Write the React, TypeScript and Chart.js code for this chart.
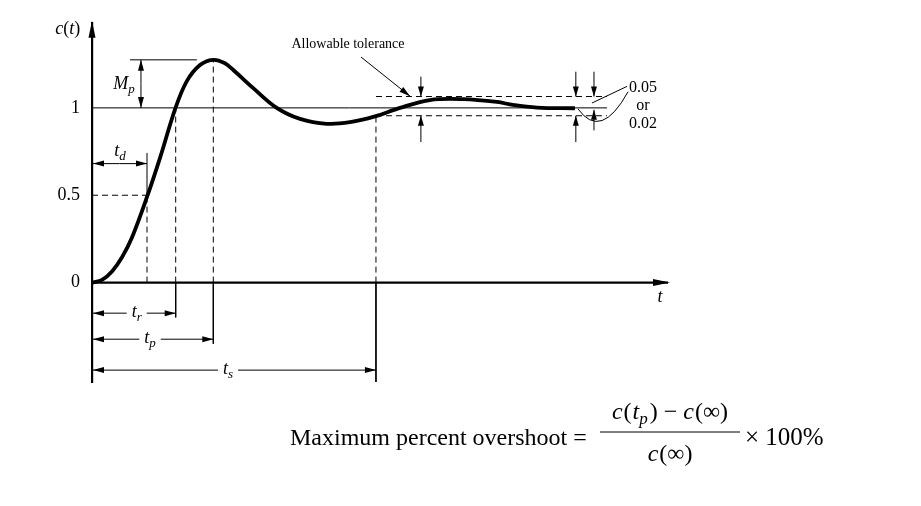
import React, { useEffect, useRef } from "react";
import { Chart, registerables } from "chart.js";

Chart.register(...registerables);

// ---- data (time in arbitrary units, c(t) normalised) ----
const stepTime = [0, 0.174, 0.347, 0.521, 0.694, 0.955, 1.181, 1.45, 1.644, 1.875, 2.101, 2.3, 2.453, 2.8, 3.207, 3.611, 4.075, 4.479, 4.913, 5.347, 5.868, 6.441, 7.031, 7.309, 7.726, 8.385];
const stepResponse = [0, 0.016, 0.064, 0.145, 0.258, 0.49, 0.714, 1.0, 1.152, 1.245, 1.275, 1.257, 1.217, 1.113, 1.0, 0.937, 0.909, 0.918, 0.951, 1.0, 1.045, 1.05, 1.034, 1.017, 1.002, 0.998];
const yTicks = [0, 0.5, 1];

// characteristic times: delay, rise, peak, settling
const markerSubs = ["d", "r", "p", "s"];
const markerTimes = [0.955, 1.453, 2.106, 4.93];
const markerLevels = [0.5, 1, 1.275, 0.955]; // where the dashed drop line meets the curve
const markerExtents = [0.742, -0.199, -0.35, -0.569]; // solid tick extension
const markerRows = [0.681, -0.175, -0.324, -0.501]; // level of the dimension arrow

const finalValue = 1;
const peakValue = 1.275;
const toleranceBand = [0.955, 1.065];
const lineEnd = 8.94;
const tRange = [0, 10];
const cRange = [-0.569, 1.487];

const SERIF = '"Liberation Serif", "Times New Roman", serif';

type Run = { t: string; it?: boolean; s: number; dy?: number; gap?: number };
const fontOf = (r: Run) => `${r.it ? "italic " : ""}${r.s}px ${SERIF}`;

function runsWidth(ctx: CanvasRenderingContext2D, runs: Run[]) {
  let w = 0;
  runs.forEach((r) => {
    ctx.font = fontOf(r);
    w += ctx.measureText(r.t).width + (r.gap || 0);
  });
  return w;
}

function drawRuns(ctx: CanvasRenderingContext2D, runs: Run[], x: number, y: number, align = "left") {
  const w = runsWidth(ctx, runs);
  let cx = align === "center" ? x - w / 2 : align === "right" ? x - w : x;
  ctx.textAlign = "left";
  ctx.textBaseline = "alphabetic";
  runs.forEach((r) => {
    ctx.font = fontOf(r);
    ctx.fillText(r.t, cx, y + (r.dy || 0));
    cx += ctx.measureText(r.t).width + (r.gap || 0);
  });
  return w;
}

function seg(ctx: CanvasRenderingContext2D, x1: number, y1: number, x2: number, y2: number, lw = 1) {
  ctx.lineWidth = lw;
  ctx.beginPath();
  ctx.moveTo(x1, y1);
  ctx.lineTo(x2, y2);
  ctx.stroke();
}

function head(ctx: CanvasRenderingContext2D, x: number, y: number, a: number, len = 11, hw = 3) {
  const c = Math.cos(a), s = Math.sin(a);
  ctx.beginPath();
  ctx.moveTo(x, y);
  ctx.lineTo(x - len * c + hw * s, y - len * s - hw * c);
  ctx.lineTo(x - len * c - hw * s, y - len * s + hw * c);
  ctx.closePath();
  ctx.fill();
}

function arrow(ctx: CanvasRenderingContext2D, x1: number, y1: number, x2: number, y2: number, len = 11, hw = 3) {
  seg(ctx, x1, y1, x2, y2, 1);
  head(ctx, x2, y2, Math.atan2(y2 - y1, x2 - x1), len, hw);
}

const tSub = (sub: string): Run[] => [
  { t: "t", it: true, s: 18 },
  { t: sub, it: true, s: 13, dy: 4 },
];

const annotations = {
  id: "annotations",
  afterDatasetsDraw(chart: any) {
    const ctx: CanvasRenderingContext2D = chart.ctx;
    const X = (v: number) => chart.scales.x.getPixelForValue(v);
    const Y = (v: number) => chart.scales.y.getPixelForValue(v);
    const area = chart.chartArea;
    ctx.save();
    ctx.strokeStyle = "#000";
    ctx.fillStyle = "#000";
    ctx.setLineDash([]);

    // axes arrows
    seg(ctx, X(0), Y(0), X(tRange[1]), Y(0), 2.2);
    head(ctx, X(tRange[1]) + 2, Y(0), 0, 17, 3.5);
    head(ctx, X(0), area.top - 2, -Math.PI / 2, 17, 3.5);

    // axis titles
    drawRuns(ctx, [{ t: "c", it: true, s: 18 }, { t: "(", s: 18 }, { t: "t", it: true, s: 18 }, { t: ")", s: 18 }], X(-0.42), Y(1.425), "center");
    drawRuns(ctx, [{ t: "t", it: true, s: 18 }], X(9.86), Y(-0.109), "center");

    // M_p
    seg(ctx, X(0.66), Y(peakValue), X(1.82), Y(peakValue), 1);
    arrow(ctx, X(0.85), Y(1.14), X(0.85), Y(peakValue));
    arrow(ctx, X(0.85), Y(1.14), X(0.85), Y(finalValue));
    drawRuns(ctx, [{ t: "M", it: true, s: 18 }, { t: "p", it: true, s: 13, dy: 4 }], X(0.556), Y(1.106), "center");

    // t_d dimension (label above)
    const rowD = Y(markerRows[0]);
    arrow(ctx, (X(0) + X(markerTimes[0])) / 2, rowD, X(0) + 1, rowD);
    arrow(ctx, (X(0) + X(markerTimes[0])) / 2, rowD, X(markerTimes[0]), rowD);
    drawRuns(ctx, tSub(markerSubs[0]), X(0.486), Y(0.725), "center");

    // t_r, t_p, t_s dimensions (label inline)
    const labelCentres = [0.776, 1.007, 2.361];
    for (let i = 1; i < 4; i++) {
      const row = Y(markerRows[i]);
      const cx = X(labelCentres[i - 1]);
      const w = runsWidth(ctx, tSub(markerSubs[i]));
      drawRuns(ctx, tSub(markerSubs[i]), cx, row + 4, "center");
      arrow(ctx, cx - w / 2 - 5, row, X(0) + 1, row);
      arrow(ctx, cx + w / 2 + 5, row, X(markerTimes[i]), row);
    }

    // tolerance arrows
    const tolArrows = [
      [5.71, 1.179, 0.804, 0.955],
      [8.4, 1.207, 0.804, 0.955],
      [8.715, 1.207, 0.871, 0.989],
    ];
    tolArrows.forEach(([t, top, bot, lowTip]) => {
      arrow(ctx, X(t), Y(top), X(t), Y(toleranceBand[1]), 10, 3);
      arrow(ctx, X(t), Y(bot), X(t), Y(lowTip), 10, 3);
    });

    // "Allowable tolerance"
    drawRuns(ctx, [{ t: "Allowable tolerance", s: 14 }], X(4.444), Y(1.345), "center");
    arrow(ctx, X(4.67), Y(1.291), X(5.521), Y(1.067), 11, 3);

    // 0.05 or 0.02
    drawRuns(ctx, [{ t: "0.05", s: 16 }], X(9.323), Y(1.09), "left");
    drawRuns(ctx, [{ t: "or", s: 16 }], X(9.566), Y(0.986), "center");
    drawRuns(ctx, [{ t: "0.02", s: 16 }], X(9.323), Y(0.882), "left");
    seg(ctx, X(8.681), Y(1.028), X(9.288), Y(1.123), 1);
    ctx.lineWidth = 1;
    ctx.beginPath();
    ctx.moveTo(X(8.438), Y(0.994));
    ctx.quadraticCurveTo(X(8.837), Y(0.812), X(9.306), Y(1.092));
    ctx.stroke();

    // formula
    drawRuns(ctx, [{ t: "Maximum percent overshoot", s: 24 }], 290, 445, "left");
    drawRuns(ctx, [{ t: "=", s: 24 }], 580, 445, "center");
    drawRuns(
      ctx,
      [
        { t: "c", it: true, s: 24, gap: 1 },
        { t: "(", s: 24, gap: 1 },
        { t: "t", it: true, s: 24 },
        { t: "p", it: true, s: 17, dy: 5, gap: 2 },
        { t: ")", s: 24, gap: 6 },
        { t: "\u2212", s: 24, gap: 6 },
        { t: "c", it: true, s: 24, gap: 1 },
        { t: "(\u221E)", s: 24 },
      ],
      670,
      419,
      "center"
    );
    seg(ctx, 600, 432, 740, 432, 1);
    drawRuns(ctx, [{ t: "c", it: true, s: 24, gap: 1 }, { t: "(\u221E)", s: 24 }], 670, 461, "center");
    drawRuns(ctx, [{ t: "\u00D7 100%", s: 25 }], 745, 445, "left");

    ctx.restore();
  },
};

export default function App() {
  const ref = useRef<HTMLCanvasElement>(null);

  useEffect(() => {
    const canvas = ref.current;
    if (!canvas) return;

    const thin = (data: { x: number; y: number }[], dashed = false) => ({
      data,
      showLine: true,
      borderColor: "#000",
      borderWidth: 1,
      borderDash: dashed ? [6, 4] : [],
      pointRadius: 0,
      tension: 0,
      clip: false as any,
    });

    const datasets: any[] = [
      {
        data: stepTime.map((t, i) => ({ x: t, y: stepResponse[i] })),
        showLine: true,
        borderColor: "#000",
        borderWidth: 3.8,
        pointRadius: 0,
        tension: 0.35,
        cubicInterpolationMode: "default",
        clip: false,
      },
      thin([{ x: 0, y: finalValue }, { x: lineEnd, y: finalValue }]),
      thin([{ x: 0, y: markerLevels[0] }, { x: markerTimes[0], y: markerLevels[0] }], true),
      thin([{ x: markerTimes[3], y: toleranceBand[0] }, { x: lineEnd, y: toleranceBand[0] }], true),
      thin([{ x: markerTimes[3], y: toleranceBand[1] }, { x: lineEnd, y: toleranceBand[1] }], true),
    ];
    markerTimes.forEach((t, i) => {
      datasets.push(thin([{ x: t, y: 0 }, { x: t, y: markerLevels[i] }], true));
      datasets.push(thin([{ x: t, y: i === 0 ? markerLevels[i] : 0 }, { x: t, y: markerExtents[i] }]));
    });

    const chart = new Chart(canvas, {
      type: "scatter",
      data: { datasets },
      options: {
        animation: false,
        responsive: false,
        maintainAspectRatio: false,
        layout: { padding: { left: 0, top: 15, right: 253, bottom: 124 } },
        plugins: {
          legend: { display: false },
          tooltip: { enabled: false },
        },
        scales: {
          x: { type: "linear", min: tRange[0], max: tRange[1], display: false },
          y: {
            type: "linear",
            min: cRange[0],
            max: cRange[1],
            afterFit: (s: any) => {
              s.width = 92;
            },
            afterBuildTicks: (s: any) => {
              s.ticks = yTicks.map((v) => ({ value: v }));
            },
            grid: { display: false, drawTicks: false },
            border: { display: true, color: "#000", width: 2.2 },
            ticks: {
              color: "#000",
              padding: 12,
              font: { family: SERIF, size: 18 },
              callback: (v: any) => String(v),
            },
          },
        },
      },
      plugins: [annotations],
    });

    return () => chart.destroy();
  }, []);

  return (
    <div style={{ position: "fixed", left: 0, top: 0, width: 921, height: 506, background: "#fff" }}>
      <canvas ref={ref} width={921} height={506} style={{ display: "block", width: 921, height: 506 }} />
    </div>
  );
}
